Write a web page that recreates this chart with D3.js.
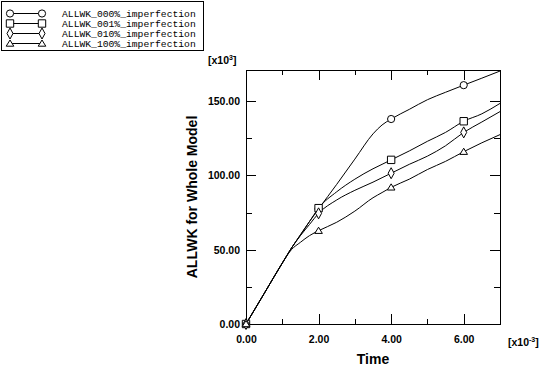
<!DOCTYPE html>
<html>
<head>
<meta charset="utf-8">
<script src="https://cdn.jsdelivr.net/npm/d3@7"></script>
<style>
  html, body { margin: 0; padding: 0; background: #fff; }
  svg { display: block; }
</style>
</head>
<body>
<svg id="chart" width="539" height="366"></svg>
<script>
// ---- data (time in 1e-3, ALLWK in 1e3) ----
const timeVals = [0, 0.5, 1.0, 1.25, 1.5, 1.75, 2.0, 2.5, 3.0, 3.5, 3.75, 4.0, 4.5, 5.0, 5.5, 6.0, 6.5, 7.0];
const seriesNames = ["ALLWK_000%_imperfection", "ALLWK_001%_imperfection", "ALLWK_010%_imperfection", "ALLWK_100%_imperfection"];
const seriesSymbols = ["circle", "square", "diamond", "triangle"];
const allwk000 = [0, 20.5, 41, 51, 60, 69, 77.5, 94, 111, 128, 134, 138, 144.5, 151, 156, 160.8, 165.5, 170.3];
const allwk001 = [0, 20.5, 41, 51, 60, 69, 78, 89, 97.5, 104.5, 107.5, 110.5, 116.5, 123, 129, 136.5, 141.5, 148.5];
const allwk010 = [0, 20.5, 41, 51, 59.5, 67, 74.5, 83.5, 90, 95.5, 98.5, 101.5, 107.5, 113, 120, 129, 136, 143];
const allwk100 = [0, 20.5, 41, 50, 55, 59.5, 62.8, 68.5, 76, 85, 88.5, 92, 97.5, 104, 109.5, 116, 122, 127.5];
const markerTimes = [0, 2, 4, 6];
const xMajorTicks = [0, 2, 4, 6];
const xMinorTicks = [1, 3, 5];
const yMajorTicks = [0, 50, 100, 150];
const yMinorTicks = [25, 75, 125];
const xTitle = "Time";
const yTitle = "ALLWK for Whole Model";

const seriesValues = [allwk000, allwk001, allwk010, allwk100];

const svg = d3.select("#chart");
const L = 246, R = 500, T = 70, B = 324;
const x = d3.scaleLinear().domain([0, 7]).range([L, R]);
const y = d3.scaleLinear().domain([0, 171]).range([B, T]);

const labelFont = "'Liberation Sans', Arial, sans-serif";

// frame
svg.append("rect").attr("x", L).attr("y", T).attr("width", R - L).attr("height", B - T)
  .attr("fill", "none").attr("stroke", "#000").attr("stroke-width", 1).attr("shape-rendering", "crispEdges");

function tickGroup(axisFn, scale, ticks, size, transform, labels) {
  const ax = axisFn(scale).tickValues(ticks).tickSizeInner(size).tickSizeOuter(0).tickPadding(6);
  if (labels) ax.tickFormat(d3.format(".2f")); else ax.tickFormat("");
  const g = svg.append("g").attr("transform", transform).call(ax);
  g.select(".domain").remove();
  g.selectAll("line").attr("stroke", "#000").attr("shape-rendering", "crispEdges");
  g.selectAll("text").attr("font-family", labelFont).attr("font-weight", "bold")
    .attr("font-size", "10.5px").attr("fill", "#000");
  return g;
}
// bottom (labels) + minor
const gb = tickGroup(d3.axisBottom, x, xMajorTicks, -10, `translate(0,${B})`, true);
gb.selectAll("text").attr("y", 12);
tickGroup(d3.axisBottom, x, xMinorTicks, -5, `translate(0,${B})`, false);
// top
tickGroup(d3.axisTop, x, xMajorTicks, -10, `translate(0,${T})`, false);
tickGroup(d3.axisTop, x, xMinorTicks, -5, `translate(0,${T})`, false);
// left
const gl = tickGroup(d3.axisLeft, y, yMajorTicks, -10, `translate(${L},0)`, true);
gl.selectAll("text").attr("x", -6);
tickGroup(d3.axisLeft, y, yMinorTicks, -6, `translate(${L},0)`, false);
// right
tickGroup(d3.axisRight, y, yMajorTicks, -10, `translate(${R},0)`, false);
tickGroup(d3.axisRight, y, yMinorTicks, -6, `translate(${R},0)`, false);

// multipliers
const m1 = svg.append("text").attr("x", 208).attr("y", 64).attr("font-family", labelFont)
  .attr("font-weight", "bold").attr("font-size", "10.5px");
m1.append("tspan").text("[x10");
m1.append("tspan").attr("dy", -4).attr("font-size", "7px").text("3");
m1.append("tspan").attr("dy", 4).text("]");
const m2 = svg.append("text").attr("x", 508).attr("y", 346).attr("font-family", labelFont)
  .attr("font-weight", "bold").attr("font-size", "10.5px");
m2.append("tspan").text("[x10");
m2.append("tspan").attr("dy", -4).attr("font-size", "7px").text("-3");
m2.append("tspan").attr("dy", 4).text("]");

// titles
svg.append("text").attr("x", (L + R) / 2).attr("y", 364).attr("text-anchor", "middle")
  .attr("font-family", labelFont).attr("font-weight", "bold").attr("font-size", "14px").text(xTitle);
svg.append("text").attr("transform", `translate(197,${(T + B) / 2}) rotate(-90)`).attr("text-anchor", "middle")
  .attr("font-family", labelFont).attr("font-weight", "bold").attr("font-size", "14px").text(yTitle);

// curves
const line = d3.line().x(d => x(d[0])).y(d => y(d[1])).curve(d3.curveMonotoneX);
function symbolPath(kind) {
  switch (kind) {
    case "circle": return "M3.6,0A3.6,3.6 0 1,1 -3.6,0A3.6,3.6 0 1,1 3.6,0Z";
    case "square": return "M-3.7,-3.7H3.7V3.7H-3.7Z";
    case "diamond": return "M0,-5.5L3,0L0,5.5L-3,0Z";
    case "triangle": return "M0,-3.5L3.8,2.7H-3.8Z";
  }
}
const plot = svg.append("g");
seriesValues.forEach((vals, i) => {
  const pts = timeVals.map((t, k) => [t, vals[k]]);
  plot.append("path").datum(pts).attr("d", line).attr("fill", "none").attr("stroke", "#000").attr("stroke-width", 1);
});
seriesValues.forEach((vals, i) => {
  markerTimes.forEach(t => {
    const k = timeVals.indexOf(t);
    plot.append("path").attr("d", symbolPath(seriesSymbols[i]))
      .attr("transform", `translate(${x(t)},${y(vals[k])})`)
      .attr("fill", "#fff").attr("stroke", "#000").attr("stroke-width", 1);
  });
});

// legend
const lg = svg.append("g");
lg.append("rect").attr("x", 1.5).attr("y", 1.5).attr("width", 202).attr("height", 49)
  .attr("fill", "#fff").attr("stroke", "#000").attr("stroke-width", 1);
seriesNames.forEach((name, i) => {
  const cy = 13 + i * 10;
  lg.append("line").attr("x1", 10).attr("x2", 42).attr("y1", cy + 0.5).attr("y2", cy + 0.5)
    .attr("stroke", "#000").attr("stroke-width", 1);
  [10, 42].forEach(cx => {
    lg.append("path").attr("d", symbolPath(seriesSymbols[i])).attr("transform", `translate(${cx},${cy + 0.5})`)
      .attr("fill", "#fff").attr("stroke", "#000").attr("stroke-width", 1);
  });
  lg.append("text").attr("x", 62).attr("y", cy + 3.5).attr("font-family", "'Liberation Mono', 'Courier New', monospace")
    .attr("font-size", "9.7px").attr("fill", "#000").text(name);
});
</script>
</body>
</html>
